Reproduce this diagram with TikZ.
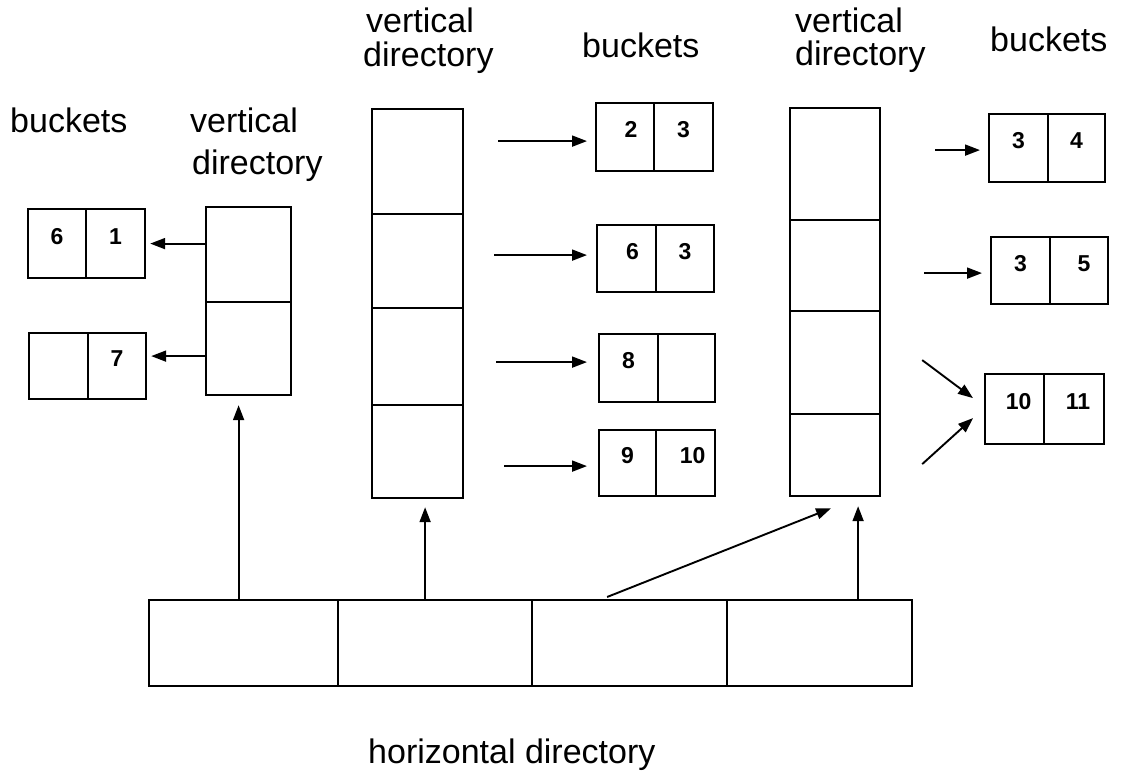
\documentclass[tikz,border=0pt]{standalone}
\usepackage{fontspec}
\setmainfont{Liberation Sans}
\usetikzlibrary{arrows.meta}
\begin{document}
\begin{tikzpicture}[x=1pt,y=-1pt,
  cell/.style={draw, line width=2.2pt, inner sep=0pt, anchor=north west},
  bcell/.style={cell, font=\fontsize{23}{23}\selectfont\bfseries, text height=16pt, text depth=15pt},
  lab/.style={font=\fontsize{34}{34}\selectfont, anchor=base west, inner sep=0pt},
  arr/.style={line width=1.9pt, -{Triangle[length=15pt,width=11pt]}}]
\useasboundingbox[fill=white] (0,0) rectangle (1122,781);

% labels
\node[lab] (t1) at (10,133) {buckets};
\node[lab] (t2) at (190,133) {vertical};
\node[lab] (t3) at (192,175) {directory};
\node[lab] (t4) at (366,33) {vertical};
\node[lab] (t5) at (363,67) {directory};
\node[lab] (t6) at (582,58) {buckets};
\node[lab] (t7) at (795,33) {vertical};
\node[lab] (t8) at (795,66) {directory};
\node[lab] (t9) at (990,52) {buckets};
\node[lab] (t10) at (368,763) {horizontal directory};

% left vertical directory
\node[cell, minimum width=85pt, minimum height=95pt] (L1) at (205,206) {};
\node[cell, minimum width=85pt, minimum height=93pt] (L2) at (205,301) {};
% left buckets
\node[bcell, minimum width=58pt, minimum height=69pt] (lb1a) at (27,208) {6};
\node[bcell, minimum width=59pt, minimum height=69pt] (lb1b) at (85,208) {1};
\node[bcell, minimum width=59pt, minimum height=66pt] (lb2a) at (28,332) {};
\node[bcell, minimum width=58pt, minimum height=66pt] (lb2b) at (87,332) {7};

% middle vertical directory
\node[cell, minimum width=91pt, minimum height=105pt] (M1) at (371,108) {};
\node[cell, minimum width=91pt, minimum height=94pt] (M2) at (371,213) {};
\node[cell, minimum width=91pt, minimum height=97pt] (M3) at (371,307) {};
\node[cell, minimum width=91pt, minimum height=93pt] (M4) at (371,404) {};
% middle buckets
\node[bcell, minimum width=58pt, minimum height=68pt] (mb1a) at (595,102) {\hspace{12pt}2};
\node[bcell, minimum width=59pt, minimum height=68pt] (mb1b) at (653,102) {3};
\node[bcell, minimum width=59pt, minimum height=67pt] (mb2a) at (596,224) {\hspace{12pt}6};
\node[bcell, minimum width=58pt, minimum height=67pt] (mb2b) at (655,224) {3};
\node[bcell, minimum width=59pt, minimum height=68pt] (mb3a) at (598,333) {8};
\node[bcell, minimum width=57pt, minimum height=68pt] (mb3b) at (657,333) {};
\node[bcell, minimum width=57pt, minimum height=66pt] (mb4a) at (598,429) {9};
\node[bcell, minimum width=59pt, minimum height=66pt] (mb4b) at (655,429) {\hspace{14pt}10};

% right vertical directory
\node[cell, minimum width=90pt, minimum height=112pt] (R1) at (789,107) {};
\node[cell, minimum width=90pt, minimum height=91pt] (R2) at (789,219) {};
\node[cell, minimum width=90pt, minimum height=103pt] (R3) at (789,310) {};
\node[cell, minimum width=90pt, minimum height=82pt] (R4) at (789,413) {};
% right buckets
\node[bcell, minimum width=59pt, minimum height=68pt] (rb1a) at (988,113) {3\hspace{8pt}};
\node[bcell, minimum width=57pt, minimum height=68pt] (rb1b) at (1047,113) {4};
\node[bcell, minimum width=59pt, minimum height=67pt] (rb2a) at (990,236) {3\hspace{10pt}};
\node[bcell, minimum width=58pt, minimum height=67pt] (rb2b) at (1049,236) {\hspace{10pt}5};
\node[bcell, minimum width=59pt, minimum height=70pt] (rb3a) at (984,373) {\hspace{8pt}10};
\node[bcell, minimum width=60pt, minimum height=70pt] (rb3b) at (1043,373) {\hspace{8pt}11};

% horizontal directory
\node[cell, minimum width=189pt, minimum height=86pt] (H1) at (148,599) {};
\node[cell, minimum width=194pt, minimum height=86pt] (H2) at (337,599) {};
\node[cell, minimum width=195pt, minimum height=86pt] (H3) at (531,599) {};
\node[cell, minimum width=185pt, minimum height=86pt] (H4) at (726,599) {};

% left arrows
\draw[arr] (lb1b.east -| L1.west) -- ([xshift=4pt]lb1b.east);
\draw[arr] ([yshift=10pt]lb2b.east -| L2.west) -- ([xshift=4pt,yshift=10pt]lb2b.east);

% middle arrows
\draw[arr] ([xshift=34pt,yshift=-4pt]M1.east |- mb1a.west) -- ([xshift=-8pt,yshift=-4pt]mb1a.west);
\draw[arr] ([xshift=30pt,yshift=3.5pt]M2.east |- mb2a.west) -- ([xshift=-9pt,yshift=3.5pt]mb2a.west);
\draw[arr] ([xshift=32pt,yshift=6pt]M3.east |- mb3a.west) -- ([xshift=-11pt,yshift=6pt]mb3a.west);
\draw[arr] ([xshift=40pt,yshift=-3pt]M4.east |- mb4a.west) -- ([xshift=-11pt,yshift=-3pt]mb4a.west);

% right arrows
\draw[arr] ([xshift=54pt,yshift=-2pt]R1.east |- rb1a.west) -- ([xshift=-8pt,yshift=-2pt]rb1a.west);
\draw[arr] ([xshift=43pt,yshift=-2.5pt]R2.east |- rb2a.west) -- ([xshift=-8pt,yshift=-2.5pt]rb2a.west);
\draw[arr] ([xshift=41pt,yshift=2.5pt]R3.east) -- ([xshift=-11pt,yshift=11pt]rb3a.west);
\draw[arr] ([xshift=41pt,yshift=-9pt]R4.east) -- ([xshift=-11pt,yshift=-9pt]rb3a.west);

% bottom arrows
\draw[arr] ([xshift=-10pt]L2.south |- H1.north) -- ([xshift=-10pt,yshift=-9pt]L2.south);
\draw[arr] ([xshift=7.5pt]M4.south |- H2.north) -- ([xshift=7.5pt,yshift=-8pt]M4.south);
\draw[arr] ([xshift=-22.5pt,yshift=2pt]H3.north) -- ([xshift=-4pt,yshift=-11pt]R4.south);
\draw[arr] ([xshift=23pt]R4.south |- H4.north) -- ([xshift=23pt,yshift=-9pt]R4.south);
\end{tikzpicture}
\end{document}
